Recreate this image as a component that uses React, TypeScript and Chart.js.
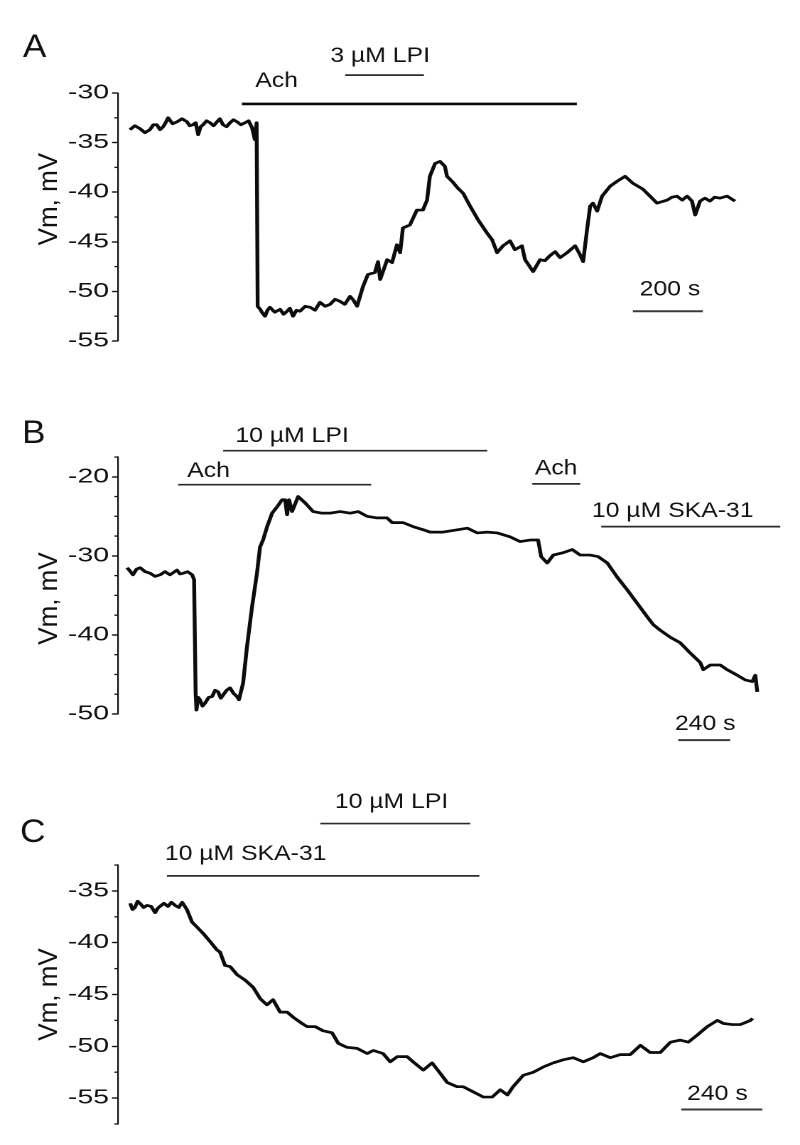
import React, { useEffect, useRef } from "react";
import { Chart, registerables } from "chart.js";

Chart.register(...registerables);

// ---------- data (time in s, membrane potential in mV) ----------
const timeA = [34, 48, 63, 77, 91, 101, 111, 120, 129, 136, 143, 156, 169, 183, 197, 205, 214, 222, 229, 236, 243, 253, 263, 273, 283, 291, 300, 310, 320, 330, 340, 351, 363, 373, 383, 391, 396, 399, 406, 413, 420, 427, 434, 448, 463, 473, 483, 491, 500, 510, 520, 535, 549, 563, 577, 592, 606, 620, 634, 648, 663, 673, 683, 700, 714, 734, 743, 749, 769, 783, 797, 806, 814, 834, 854, 871, 883, 891, 906, 920, 934, 940, 957, 971, 986, 1006, 1029, 1054, 1069, 1083, 1100, 1120, 1134, 1154, 1163, 1186, 1206, 1220, 1234, 1249, 1263, 1283, 1306, 1320, 1329, 1340, 1349, 1357, 1369, 1383, 1406, 1426, 1449, 1471, 1500, 1520, 1540, 1569, 1583, 1597, 1612, 1626, 1640, 1649, 1663, 1677, 1691, 1705, 1720, 1740, 1763];
const vmA = [-33.7, -33.3, -33.6, -34.0, -33.7, -33.2, -33.2, -33.7, -33.4, -33.0, -32.5, -33.1, -32.9, -32.6, -32.9, -33.3, -33.2, -33.0, -34.2, -33.4, -33.2, -32.8, -33.0, -33.3, -32.9, -32.6, -33.2, -33.4, -33.0, -32.7, -32.9, -33.2, -33.0, -32.8, -33.5, -34.7, -33.0, -51.5, -51.8, -52.2, -52.5, -51.9, -51.6, -52.1, -51.8, -52.3, -52.0, -51.7, -52.5, -51.9, -52.0, -51.5, -51.6, -51.9, -51.1, -51.5, -51.3, -50.8, -51.0, -51.3, -50.5, -50.9, -51.5, -49.5, -48.3, -48.1, -47.0, -48.8, -46.8, -47.1, -45.3, -46.1, -43.6, -43.3, -41.8, -41.8, -40.8, -38.4, -37.1, -36.9, -37.4, -38.4, -39.0, -39.6, -40.1, -41.4, -42.8, -44.1, -44.8, -46.1, -45.4, -44.9, -45.8, -45.4, -46.8, -48.0, -46.8, -46.9, -46.4, -46.0, -46.6, -46.1, -45.4, -46.3, -47.0, -43.8, -41.4, -41.1, -41.9, -40.4, -39.4, -38.9, -38.4, -39.1, -39.7, -40.4, -41.1, -40.8, -40.5, -40.4, -40.8, -40.4, -40.9, -42.3, -40.9, -40.6, -40.9, -40.5, -40.6, -40.4, -40.9];

const timeB = [42, 55, 69, 85, 102, 125, 148, 171, 194, 217, 240, 256, 272, 286, 300, 321, 342, 351, 358, 362, 370, 378, 390, 402, 418, 434, 448, 462, 474, 485, 501, 517, 533, 549, 558, 577, 595, 618, 641, 655, 669, 688, 711, 734, 757, 771, 780, 789, 803, 831, 863, 900, 941, 978, 1025, 1071, 1108, 1149, 1195, 1241, 1265, 1315, 1361, 1408, 1440, 1472, 1500, 1565, 1611, 1657, 1703, 1749, 1809, 1855, 1901, 1938, 1952, 1980, 2008, 2054, 2095, 2132, 2178, 2215, 2257, 2303, 2349, 2395, 2441, 2469, 2501, 2548, 2594, 2640, 2686, 2700, 2732, 2778, 2810, 2857, 2894, 2926, 2940, 2949];
const vmB = [-31.5, -31.9, -32.4, -31.7, -31.5, -32.0, -32.2, -32.6, -32.4, -32.0, -32.4, -32.1, -31.8, -32.3, -32.2, -32.0, -32.4, -33.0, -47.3, -49.5, -47.9, -48.2, -49.0, -48.6, -47.9, -47.8, -47.0, -47.2, -48.0, -47.6, -47.0, -46.7, -47.4, -47.8, -48.2, -46.1, -41.5, -36.5, -32.2, -28.9, -28.0, -26.3, -24.6, -23.8, -22.9, -22.9, -24.8, -22.9, -24.4, -22.5, -23.3, -24.4, -24.6, -24.6, -24.4, -24.6, -24.4, -25.0, -25.2, -25.2, -25.8, -25.8, -26.3, -26.7, -27.0, -27.0, -27.0, -26.7, -26.5, -27.1, -27.0, -27.1, -27.6, -28.2, -28.0, -28.0, -30.1, -30.9, -29.9, -29.6, -29.2, -29.9, -29.9, -30.1, -30.9, -32.7, -34.3, -36.0, -37.7, -38.7, -39.4, -40.3, -41.0, -42.3, -43.5, -44.4, -43.8, -43.8, -44.4, -45.1, -45.7, -45.9, -45.1, -47.2];

const timeC = [36, 43, 50, 58, 65, 76, 86, 98, 110, 117, 124, 136, 148, 158, 169, 180, 190, 204, 219, 234, 252, 273, 293, 302, 317, 332, 353, 376, 400, 421, 441, 459, 480, 501, 519, 545, 560, 584, 607, 634, 652, 678, 708, 738, 756, 785, 806, 827, 856, 874, 904, 930, 954, 975, 1004, 1022, 1052, 1082, 1108, 1132, 1153, 1170, 1200, 1230, 1259, 1289, 1319, 1348, 1378, 1407, 1428, 1458, 1487, 1517, 1547, 1576, 1606, 1636, 1665, 1689, 1716, 1745, 1775, 1793, 1819, 1843, 1873, 1879];
const vmC = [-36.2, -36.8, -36.6, -36.0, -36.2, -36.6, -36.4, -36.5, -37.1, -36.7, -36.5, -36.2, -36.5, -36.1, -36.4, -36.6, -36.1, -36.8, -38.0, -38.5, -39.1, -39.9, -40.7, -40.9, -42.2, -42.3, -43.1, -43.6, -44.3, -45.4, -46.0, -45.5, -46.7, -46.7, -47.2, -47.8, -48.1, -48.1, -48.5, -48.7, -49.7, -50.1, -50.2, -50.7, -50.4, -50.7, -51.5, -51.0, -51.0, -51.5, -52.3, -51.6, -52.6, -53.5, -53.9, -53.9, -54.4, -54.9, -54.9, -54.2, -54.7, -53.9, -52.8, -52.5, -52.0, -51.6, -51.3, -51.1, -51.5, -51.1, -50.7, -51.1, -50.8, -50.8, -49.9, -50.6, -50.6, -49.6, -49.4, -49.6, -48.9, -48.1, -47.5, -47.8, -47.9, -47.9, -47.5, -47.3];

// tick values (mV)
const majorTicksA = [-55, -50, -45, -40, -35, -30];
const minorTicksA = [-52.5, -47.5, -42.5, -37.5, -32.5];
const majorTicksB = [-50, -40, -30, -20];
const minorTicksB = [-47.5, -45, -42.5, -37.5, -35, -32.5, -27.5, -25, -22.5, -17.5];
const majorTicksC = [-55, -50, -45, -40, -35];
const minorTicksC = [-57.5, -52.5, -47.5, -42.5, -37.5, -32.5];

// treatment bars and scale bars: start/end time (s), level (mV)
const barsA = [
  { t0: 354, t1: 1311, v: -31.1, kind: "heavy" },
  { t0: 649, t1: 874, v: -28.2, kind: "light" },
  { t0: 1471, t1: 1671, v: -52.0, kind: "scale" },
];
const labelsA = [
  { text: "Ach", t: 453, v: -29.4 },
  { text: "3 µM LPI", t: 749, v: -26.9 },
  { text: "200 s", t: 1577, v: -50.4 },
];
const barsB = [
  { t0: 485, t1: 1703, v: -16.7, kind: "light" },
  { t0: 277, t1: 1168, v: -21.0, kind: "light" },
  { t0: 1911, t1: 2132, v: -20.9, kind: "light" },
  { t0: 2229, t1: 3055, v: -26.3, kind: "light" },
  { t0: 2584, t1: 2824, v: -53.3, kind: "scale" },
];
const labelsB = [
  { text: "10 µM LPI", t: 803, v: -15.6 },
  { text: "Ach", t: 418, v: -20.0 },
  { text: "Ach", t: 2021, v: -19.7 },
  { text: "10 µM SKA-31", t: 2559, v: -25.1 },
  { text: "240 s", t: 2709, v: -52.0 },
];
const barsC = [
  { t0: 599, t1: 1043, v: -28.5, kind: "light" },
  { t0: 145, t1: 1070, v: -33.55, kind: "light" },
  { t0: 1668, t1: 1908, v: -56.1, kind: "scale" },
];
const labelsC = [
  { text: "10 µM LPI", t: 810, v: -27.0 },
  { text: "10 µM SKA-31", t: 378, v: -32.0 },
  { text: "240 s", t: 1775, v: -55.2 },
];

// ---------- layout / style ----------
const CSS_W = 800;
const INT_W = 563; // drawing width; the canvas is stretched horizontally like the source figure
const S = CSS_W / INT_W;
const FONT = '"Liberation Sans", Arial, Helvetica, sans-serif';
const INK = "#111111";
const AXIS_X = 118; // css px of y axis
const RIGHT_EDGE = 790;
const TEXT_SX = 1.18; // apparent horizontal stretch of annotation text
const BAR_STYLE: Record<string, { w: number; c: string }> = {
  heavy: { w: 2.6, c: "#0a0a0a" },
  light: { w: 1.7, c: "#2a2a2a" },
  scale: { w: 2.0, c: "#3a3a3a" },
};

const panels = [
  { id: "A", top: 0, h: 380, yMin: -55, yMax: -30, padTop: 93, padBottom: 39, xMax: 1920, time: timeA, vm: vmA, majors: majorTicksA, minors: minorTicksA, bars: barsA, labels: labelsA, titleV: -40.7, letterX: 23, letterY: 57 },
  { id: "B", top: 380, h: 380, yMin: -50, yMax: -17.5, padTop: 77, padBottom: 46, xMax: 3100, time: timeB, vm: vmB, majors: majorTicksB, minors: minorTicksB, bars: barsB, labels: labelsB, titleV: -35.4, letterX: 22, letterY: 63 },
  { id: "C", top: 760, h: 385, yMin: -57.5, yMax: -32.5, padTop: 105, padBottom: 21, xMax: 1990, time: timeC, vm: vmC, majors: majorTicksC, minors: minorTicksC, bars: barsC, labels: labelsC, titleV: -45.0, letterX: 20, letterY: 82 },
];

const decorPlugin = {
  id: "decor",
  afterDraw(chart: any, _args: any, opts: any) {
    const { ctx, chartArea } = chart;
    const xs = chart.scales.x;
    const ys = chart.scales.y;
    ctx.save();
    // minor ticks
    ctx.strokeStyle = INK;
    ctx.lineWidth = 1.3;
    for (const m of opts.minors) {
      const py = ys.getPixelForValue(m);
      ctx.beginPath();
      ctx.moveTo(chartArea.left, py);
      ctx.lineTo(chartArea.left - 3.6 / S, py);
      ctx.stroke();
    }
    // bars
    for (const b of opts.bars) {
      const st = BAR_STYLE[b.kind];
      ctx.strokeStyle = st.c;
      ctx.lineWidth = st.w;
      const py = ys.getPixelForValue(b.v);
      ctx.beginPath();
      ctx.moveTo(xs.getPixelForValue(b.t0), py);
      ctx.lineTo(xs.getPixelForValue(b.t1), py);
      ctx.stroke();
    }
    // annotation text
    ctx.fillStyle = INK;
    ctx.textAlign = "center";
    ctx.textBaseline = "alphabetic";
    ctx.font = `21px ${FONT}`;
    for (const l of opts.labels) {
      ctx.save();
      ctx.translate(xs.getPixelForValue(l.t), ys.getPixelForValue(l.v));
      ctx.scale(TEXT_SX / S, 1);
      ctx.fillText(l.text, 0, 0);
      ctx.restore();
    }
    // axis title
    ctx.save();
    ctx.translate(50 / S, ys.getPixelForValue(opts.titleV));
    ctx.scale(1 / S, 1);
    ctx.rotate(-Math.PI / 2);
    ctx.textBaseline = "middle";
    ctx.font = `26px ${FONT}`;
    ctx.fillText("Vm, mV", 0, 0);
    ctx.restore();
    // panel letter
    ctx.save();
    ctx.translate(opts.letterX / S, opts.letterY);
    ctx.scale(1.1 / S, 1);
    ctx.textAlign = "left";
    ctx.font = `32px ${FONT}`;
    ctx.fillText(opts.letter, 0, 0);
    ctx.restore();
    ctx.restore();
  },
};

function Panel({ p }: { p: (typeof panels)[number] }) {
  const ref = useRef<HTMLCanvasElement | null>(null);
  useEffect(() => {
    if (!ref.current) return;
    const chart = new Chart(ref.current, {
      type: "line",
      data: {
        datasets: [
          {
            data: p.time.map((t, i) => ({ x: t, y: p.vm[i] })),
            borderColor: "#0c0c0c",
            borderWidth: 2.7,
            borderJoinStyle: "round",
            pointRadius: 0,
            tension: 0,
            fill: false,
          },
        ],
      },
      options: {
        animation: false,
        responsive: false,
        devicePixelRatio: 2,
        events: [],
        layout: { padding: { left: 0, right: (CSS_W - RIGHT_EDGE) / S, top: p.padTop, bottom: p.padBottom } },
        plugins: {
          legend: { display: false },
          tooltip: { enabled: false },
          decor: { minors: p.minors, bars: p.bars, labels: p.labels, titleV: p.titleV, letter: p.id, letterX: p.letterX, letterY: p.letterY },
        } as any,
        scales: {
          x: { type: "linear", display: false, min: 0, max: p.xMax },
          y: {
            type: "linear",
            min: p.yMin,
            max: p.yMax,
            afterFit: (s: any) => {
              s.width = AXIS_X / S;
            },
            afterBuildTicks: (s: any) => {
              s.ticks = p.majors.map((v) => ({ value: v }));
            },
            ticks: {
              color: INK,
              padding: 3 / S,
              font: { family: FONT, size: 20 },
              callback: (v: any) => String(v),
            },
            grid: {
              display: true,
              drawOnChartArea: false,
              drawTicks: true,
              tickLength: 6 / S,
              tickWidth: 1.4,
              tickColor: INK,
            },
            border: { display: true, color: INK, width: 1.1 },
          },
        },
      } as any,
      plugins: [decorPlugin],
    });
    return () => chart.destroy();
  }, []);
  return (
    <canvas
      ref={ref}
      width={INT_W}
      height={p.h}
      style={{ position: "absolute", left: 0, top: p.top, width: `${CSS_W}px`, height: `${p.h}px` }}
    />
  );
}

export default function App() {
  return (
    <div style={{ position: "absolute", left: 0, top: 0, width: CSS_W, height: 1145, background: "#fff", overflow: "hidden" }}>
      {panels.map((p) => (
        <Panel key={p.id} p={p} />
      ))}
    </div>
  );
}
